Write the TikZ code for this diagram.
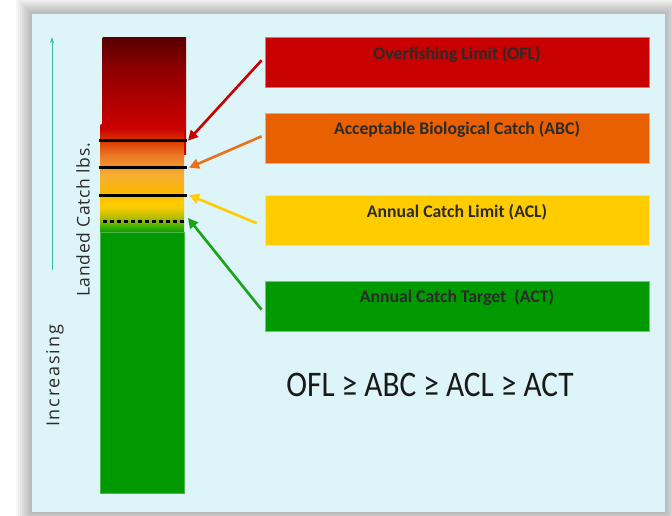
\documentclass[tikz,border=0pt]{standalone}
\usepackage{fontspec}
\setmainfont{Carlito}
\newfontfamily\axisfont{Open Sans}
\newfontfamily\rulefont[FakeStretch=0.87]{Carlito}
\usetikzlibrary{arrows.meta,positioning}

\definecolor{panelblue}{HTML}{DDF4F8}
\definecolor{oflred}{HTML}{C80000}
\definecolor{abcorange}{HTML}{E86000}
\definecolor{aclyellow}{HTML}{FFCC00}
\definecolor{actgreen}{HTML}{009900}
\definecolor{textgray}{HTML}{2B2B2B}
\definecolor{upteal}{HTML}{3CBFA0}
\definecolor{darkred}{HTML}{580000}

% colour fades of the catch bar (25bp = bottom, 75bp = top)
\pgfdeclareverticalshading{redfade}{100bp}{color(0bp)=(oflred); color(25bp)=(oflred);
  color(38bp)=(oflred); color(48bp)=(oflred!88!black); color(62bp)=(oflred!70!black);
  color(75bp)=(darkred); color(100bp)=(darkred)}
\pgfdeclareverticalshading{catchfade}{100bp}{color(0bp)=(actgreen); color(25bp)=(actgreen);
  color(28bp)=(actgreen!75!yellow); color(32bp)=(aclyellow!70!actgreen); color(36bp)=(aclyellow!95!actgreen);
  color(38bp)=(aclyellow); color(44bp)=(aclyellow!80!abcorange); color(51.5bp)=(abcorange!45!aclyellow!80!white);
  color(60.7bp)=(abcorange!85!white); color(67.6bp)=(abcorange!55!oflred); color(73bp)=(oflred);
  color(75bp)=(oflred); color(100bp)=(oflred)}

\tikzset{
  limitbox/.style={shape=rectangle, draw=#1!55!white, fill=#1, line width=0.8pt,
    minimum width=384pt, minimum height=50pt, inner sep=0pt},
  boxtext/.style={text=textgray, font=\bfseries\fontsize{17.7}{20}\selectfont},
  marker/.style={line width=3pt, black},
  pointer/.style={line width=2.6pt, -{Triangle[length=10pt,width=10pt]}},
  sidetext/.style={rotate=90, text=textgray},
}

\begin{document}
\begin{tikzpicture}[x=1pt, y=-1pt]
\useasboundingbox (0,0) rectangle (672,515);
\fill[white] (0,0) rectangle (672,515);
% soft shadow round the panel
\foreach \d in {2,4,...,16}
  \fill[black, opacity=0.035] ({32-\d},{14-\d}) rectangle ({665+\d},{512+\d});
\fill[panelblue] (32,14) rectangle (665,512);

% increasing arrow
\coordinate (up0) at (52,270);
\coordinate (up1) at (52,37);
\draw[upteal, line width=0.9pt, -{Stealth[length=6pt,width=4pt]}] (up0) -- (up1);

% catch bar
\shade[shading=redfade] (102.7,37) rectangle (186,154);
\shade[shading=catchfade] (100.7,124) rectangle (184,232.7);
\filldraw[fill=actgreen, draw=actgreen!70!white, line width=0.6pt] (100.5,232.7) rectangle (184,493);

% levels on the bar
\coordinate (oflL) at (99,140.7);  \coordinate (oflR) at (187,140.7);
\coordinate (abcL) at (99,167.7);  \coordinate (abcR) at (187,167.7);
\coordinate (aclL) at (99,195);    \coordinate (aclR) at (187,195);
\coordinate (actL) at (103,221);   \coordinate (actR) at (185,221);
\draw[marker] (oflL) -- (oflR);
\draw[marker] (abcL) -- (abcR);
\draw[marker] (aclL) -- (aclR);
\draw[marker, dash pattern=on 3.5pt off 3.5pt] (actL) -- (actR);

% limit boxes
\node[limitbox=oflred] (ofl) at (457,62.3) {};
\node[limitbox=abcorange] (abc) at (457,138.3) {};
\node[limitbox=aclyellow] (acl) at (457,220.2) {};
\node[limitbox=actgreen] (act) at (457,306.7) {};
\node[boxtext] (oflT) at ([yshift=-18pt]ofl.north) {Overfishing Limit (OFL)};
\node[boxtext] (abcT) at ([yshift=-17pt]abc.north) {Acceptable Biological Catch (ABC)};
\node[boxtext] (aclT) at ([yshift=-17pt]acl.north) {Annual Catch Limit (ACL)};
\node[boxtext] (actT) at ([yshift=-16.5pt]act.north) {Annual Catch Target\ \ (ACT)};

% pointers
\draw[pointer, oflred] ([xshift=-3pt,yshift=2pt]ofl.west) -- ([xshift=1pt]oflR);
\draw[pointer, abcorange!90!white] ([xshift=-3pt,yshift=2pt]abc.west) -- ([xshift=2pt]abcR);
\draw[pointer, aclyellow] ([xshift=-8pt,yshift=-3pt]acl.west) -- ([xshift=2pt]aclR);
\draw[pointer, actgreen!90!white] ([xshift=-3pt,yshift=-3pt]act.west) -- ([xshift=3pt,yshift=3pt]actR);

% texts
\node[font=\rulefont\fontsize{36}{40}\selectfont, text=black!90] (rule) at (430,385) {OFL ≥ ABC ≥ ACL ≥ ACT};
\node[sidetext, font={\axisfont\addfontfeature{LetterSpace=10}\fontsize{18}{20}\selectfont}] (incr) at (55,376) {Increasing};
\node[sidetext, font={\axisfont\addfontfeature{LetterSpace=4}\fontsize{17.5}{20}\selectfont}] (landed) at (83,220) {Landed Catch lbs.};
\end{tikzpicture}
\end{document}
